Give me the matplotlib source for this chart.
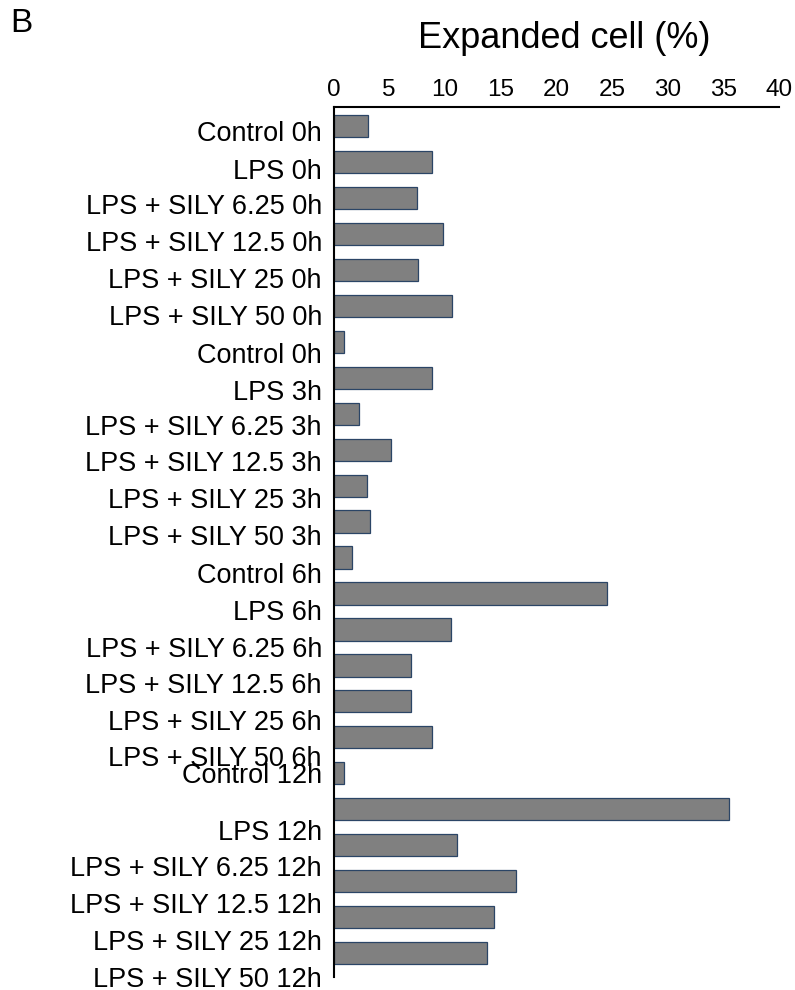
import matplotlib
matplotlib.use("Agg")
import matplotlib.pyplot as plt
from matplotlib.transforms import offset_copy

plt.rcParams['font.family'] = ['Liberation Sans', 'DejaVu Sans']

labels = ["Control 0h", "LPS 0h", "LPS + SILY 6.25 0h", "LPS + SILY 12.5 0h",
          "LPS + SILY 25 0h", "LPS + SILY 50 0h", "Control 0h", "LPS 3h",
          "LPS + SILY 6.25 3h", "LPS + SILY 12.5 3h", "LPS + SILY 25 3h",
          "LPS + SILY 50 3h", "Control 6h", "LPS 6h", "LPS + SILY 6.25 6h",
          "LPS + SILY 12.5 6h", "LPS + SILY 25 6h", "LPS + SILY 50 6h",
          "Control 12h", "LPS 12h", "LPS + SILY 6.25 12h", "LPS + SILY 12.5 12h",
          "LPS + SILY 25 12h", "LPS + SILY 50 12h"]
values = [3.1, 8.8, 7.5, 9.8, 7.6, 10.6, 0.9, 8.85, 2.3, 5.2, 3.0, 3.25,
          1.7, 24.6, 10.55, 7.0, 7.0, 8.8, 0.9, 35.5, 11.1, 16.4, 14.4, 13.75]
# label anchor rows (labels in the source are not aligned with the bars)
label_rows = [0.15, 1.19, 2.16, 3.21, 4.22, 5.25, 6.31, 7.36, 8.33, 9.33,
              10.35, 11.37, 12.43, 13.48, 14.5, 15.49, 16.52, 17.54, 17.99,
              19.58, 20.6, 21.61, 22.65, 23.67]
xticks = [0, 5, 10, 15, 20, 25, 30, 35, 40]

fig = plt.figure(figsize=(7.95, 9.9), dpi=100)
ax = fig.add_axes([0.4195, 0.01343, 0.5604, 0.8788])

rows = list(range(len(values)))
ax.barh(rows, values, height=0.62, color='#808080', edgecolor='#2B4566',
        linewidth=0.9)

ax.set_xlim(0, 40)
ax.set_ylim(23.66, -0.542)
ax.set_xticks(xticks)
ax.set_xticklabels([str(t) for t in xticks])
ax.xaxis.tick_top()
ax.tick_params(axis='x', length=0, pad=4, labelsize=17.5)
ax.set_yticks([])
for s in ['right', 'bottom']:
    ax.spines[s].set_visible(False)
for s in ['top', 'left']:
    ax.spines[s].set_linewidth(1.5)
    ax.spines[s].set_color('black')

trans = offset_copy(ax.get_yaxis_transform(), fig=fig, x=-8.3, y=-7.0, units='points')
for lab, r in zip(labels, label_rows):
    ax.text(0, r, lab, transform=trans, ha='right', va='baseline',
            fontsize=19.5, color='black', clip_on=False)

fig.text(564 / 795, 1 - 39 / 990, "Expanded cell (%)", ha='center', va='center',
         fontsize=26)
fig.text(21.5 / 795, 1 - 24 / 990, "B", ha='center', va='center', fontsize=24)

fig.savefig("out.png", dpi=100)
